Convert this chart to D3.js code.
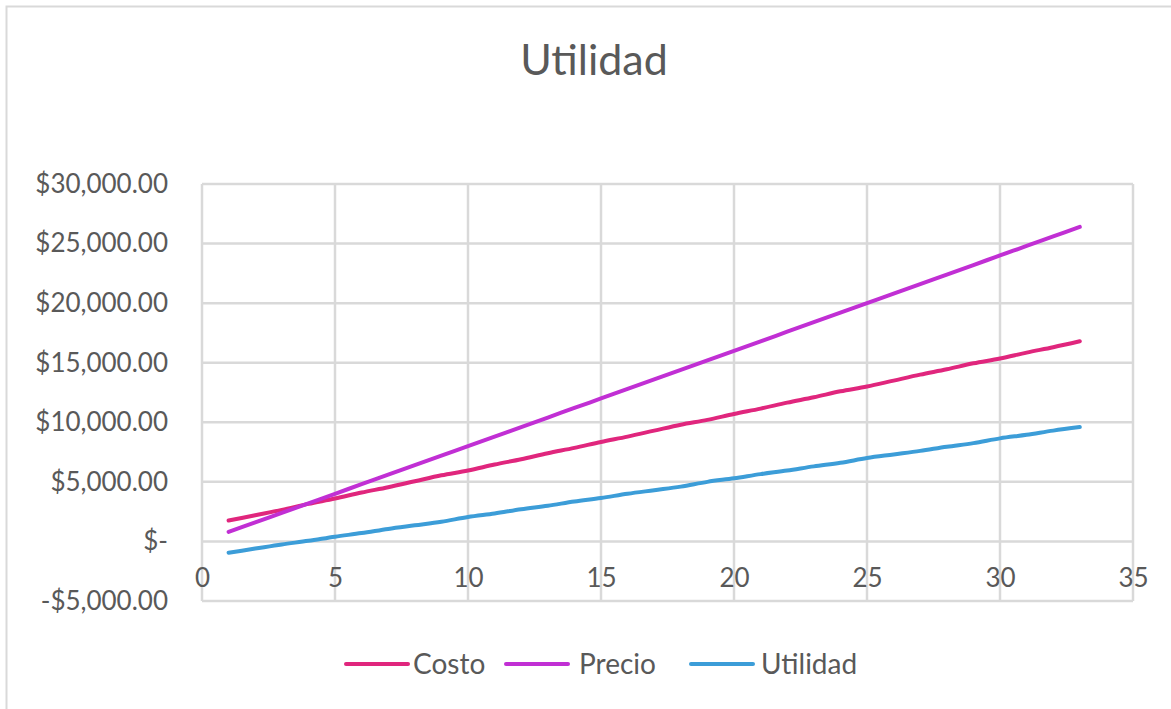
<!DOCTYPE html>
<html>
<head>
<meta charset="utf-8">
<script src="https://cdn.jsdelivr.net/npm/d3@7"></script>
<style>
  html, body { margin: 0; padding: 0; background: #fff; }
  svg { display: block; font-family: Lato, "Open Sans", sans-serif; }
</style>
</head>
<body>
<div id="chart"></div>
<script>
// Data
const units = [1, 2, 3, 4, 5, 6, 7, 8, 9, 10, 11, 12, 13, 14, 15, 16, 17, 18, 19, 20,
    21, 22, 23, 24, 25, 26, 27, 28, 29, 30, 31, 32, 33];
const costo = [1750, 2200, 2650, 3150, 3600, 4100, 4550, 5050, 5550, 5950, 6450, 6900,
    7400, 7850, 8350, 8800, 9300, 9800, 10200, 10700, 11150, 11650, 12100, 12600, 13000,
    13500, 14000, 14450, 14950, 15350, 15850, 16300, 16800];
const precio = [800, 1600, 2400, 3200, 4000, 4800, 5600, 6400, 7200, 8000, 8800, 9600,
    10400, 11200, 12000, 12800, 13600, 14400, 15200, 16000, 16800, 17600, 18400, 19200,
    20000, 20800, 21600, 22400, 23200, 24000, 24800, 25600, 26400];
const utilidad = [-950, -600, -250, 50, 400, 700, 1050, 1350, 1650, 2050, 2350, 2700,
    3000, 3350, 3650, 4000, 4300, 4600, 5000, 5300, 5650, 5950, 6300, 6600, 7000, 7300,
    7600, 7950, 8250, 8650, 8950, 9300, 9600];
const xTicks = [0, 5, 10, 15, 20, 25, 30, 35];
const yTicks = [-5000, 0, 5000, 10000, 15000, 20000, 25000, 30000];

const series = [
    { name: "Costo", values: costo, color: "#e0267d" },
    { name: "Precio", values: precio, color: "#c12fd4" },
    { name: "Utilidad", values: utilidad, color: "#3c9dd8" }
];

const width = 1171, height = 709;
const margin = { left: 202, right: 38, top: 184, bottom: 108 };

const svg = d3.select("#chart")
    .append("svg")
    .attr("width", width)
    .attr("height", height);

// Chart frame
svg.append("rect")
    .attr("x", 6.5).attr("y", 6.5)
    .attr("width", width + 20).attr("height", height + 20)
    .attr("fill", "none")
    .attr("stroke", "#d9d9d9")
    .attr("stroke-width", 2);

// Title
svg.append("text")
    .attr("x", 594)
    .attr("y", 75)
    .attr("text-anchor", "middle")
    .attr("font-size", "43px")
    .attr("fill", "#595959")
    .text("Utilidad");

const x = d3.scaleLinear()
    .domain([0, 35])
    .range([margin.left, width - margin.right]);

const y = d3.scaleLinear()
    .domain([-5000, 30000])
    .range([height - margin.bottom, margin.top]);

// Gridlines
svg.append("g")
    .selectAll("line")
    .data(yTicks)
    .enter().append("line")
    .attr("x1", x(0)).attr("x2", x(35))
    .attr("y1", d => y(d)).attr("y2", d => y(d))
    .attr("stroke", "#d9d9d9")
    .attr("stroke-width", 2.5);

svg.append("g")
    .selectAll("line")
    .data(xTicks)
    .enter().append("line")
    .attr("x1", d => x(d)).attr("x2", d => x(d))
    .attr("y1", y(30000)).attr("y2", y(-5000))
    .attr("stroke", "#d9d9d9")
    .attr("stroke-width", 2.5);

// Y axis labels
const fmtMoney = v => {
    if (v === 0) return "$-";
    const s = "$" + d3.format(",.2f")(Math.abs(v));
    return v < 0 ? "-" + s : s;
};

const yAxis = svg.append("g")
    .attr("transform", `translate(${margin.left},0)`)
    .call(d3.axisLeft(y).tickValues(yTicks).tickFormat(fmtMoney).tickSize(0).tickPadding(34));
yAxis.select(".domain").remove();
yAxis.selectAll("text")
    .attr("font-size", "26px")
    .attr("font-family", "Lato, sans-serif")
    .attr("fill", "#595959");

// X axis labels, sitting under the zero line
const xAxis = svg.append("g")
    .attr("transform", `translate(0,${y(0)})`)
    .call(d3.axisBottom(x).tickValues(xTicks).tickFormat(d3.format("d")).tickSize(0).tickPadding(27));
xAxis.select(".domain").remove();
xAxis.selectAll("text")
    .attr("font-size", "26px")
    .attr("font-family", "Lato, sans-serif")
    .attr("fill", "#595959");

// Series lines
const line = d3.line()
    .x((d, i) => x(units[i]))
    .y(d => y(d))
    .curve(d3.curveMonotoneX);

svg.append("g")
    .selectAll("path")
    .data(series)
    .enter().append("path")
    .attr("d", d => line(d.values))
    .attr("fill", "none")
    .attr("stroke", d => d.color)
    .attr("stroke-width", 4)
    .attr("stroke-linecap", "round")
    .attr("stroke-linejoin", "round");

// Legend
const legendPos = [346, 506, 691];
const legendText = [413, 579, 761];
const legend = svg.append("g")
    .selectAll("g")
    .data(series)
    .enter().append("g")
    .attr("transform", (d, i) => `translate(${legendPos[i]},664)`);

legend.append("line")
    .attr("x1", 0).attr("x2", 62)
    .attr("y1", 0).attr("y2", 0)
    .attr("stroke", d => d.color)
    .attr("stroke-width", 4)
    .attr("stroke-linecap", "round");

legend.append("text")
    .attr("x", (d, i) => legendText[i] - legendPos[i])
    .attr("y", 10)
    .attr("font-size", "28px")
    .attr("fill", "#595959")
    .text(d => d.name);
</script>
</body>
</html>
